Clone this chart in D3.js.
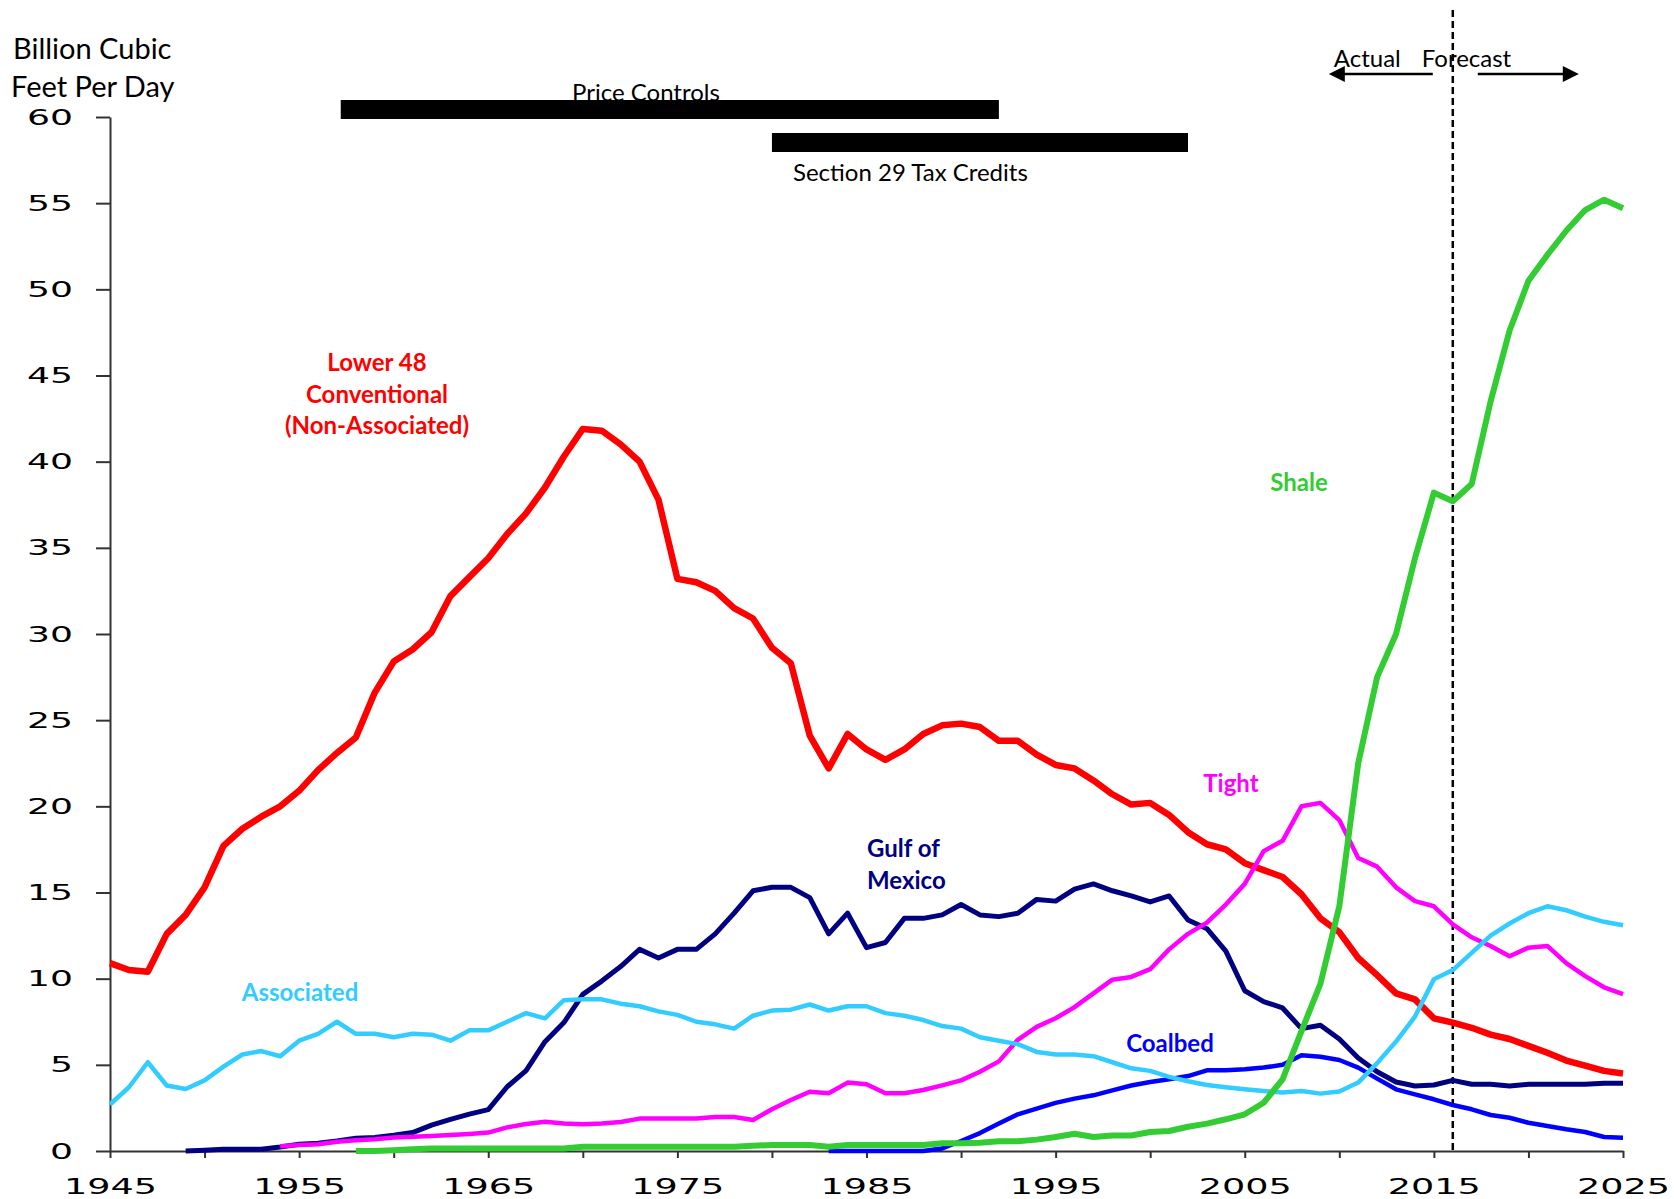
<!DOCTYPE html>
<html lang="en">
    <head>
      <meta charset="utf-8">
      <script type="text/javascript" src="https://d3js.org/d3.v7.min.js"></script>
      <style type="text/css">
        body { margin: 0; background: white; }
        .series { fill: none; stroke-linejoin: round; }
        .axis path, .axis line { stroke: #333; stroke-width: 2px; }
        .axis text { font-family: "DejaVu Sans", sans-serif; font-size: 22px; fill: black; }
        .note { font-family: Lato, "Open Sans", sans-serif; fill: black; }
        .label { font-family: Lato, "Open Sans", sans-serif; font-weight: bold; font-size: 24px; }
      </style>
   </head>
   <body>
      <div id="my_dataviz"></div>
      <script type="text/javascript">

        // values (billion cubic feet per day), one per year
        var lower48Start = 1945;
        var lower48 = [10.9, 10.5, 10.4, 12.6, 13.7,
            15.3, 17.7, 18.7, 19.4, 20.0, 20.9, 22.1, 23.1, 24.0, 26.6,
            28.4, 29.1, 30.1, 32.2, 33.3, 34.4, 35.8, 37.0, 38.5, 40.3,
            41.9, 41.8, 41.0, 40.0, 37.8, 33.2, 33.0, 32.5, 31.5, 30.9,
            29.2, 28.3, 24.1, 22.2, 24.2, 23.3, 22.7, 23.3, 24.2, 24.7,
            24.8, 24.6, 23.8, 23.8, 23.0, 22.4, 22.2, 21.5, 20.7, 20.1,
            20.2, 19.5, 18.5, 17.8, 17.5, 16.7, 16.3, 15.9, 14.9, 13.5,
            12.7, 11.2, 10.2, 9.15, 8.8, 7.7, 7.45, 7.15, 6.75, 6.5,
            6.1, 5.7, 5.25, 4.95, 4.65, 4.5];

        var associatedStart = 1945;
        var associated = [2.7, 3.7, 5.15, 3.8, 3.6,
            4.1, 4.9, 5.6, 5.8, 5.5, 6.4, 6.8, 7.5, 6.8, 6.8,
            6.6, 6.8, 6.75, 6.4, 7.0, 7.0, 7.5, 8.0, 7.7, 8.75,
            8.8, 8.8, 8.55, 8.4, 8.1, 7.9, 7.5, 7.35, 7.1, 7.85,
            8.15, 8.2, 8.5, 8.15, 8.4, 8.4, 8.0, 7.85, 7.6, 7.25,
            7.1, 6.6, 6.4, 6.2, 5.75, 5.6, 5.6, 5.5, 5.15, 4.8,
            4.65, 4.3, 4.05, 3.83, 3.7, 3.58, 3.48, 3.4, 3.48, 3.33,
            3.45, 3.97, 5.1, 6.35, 7.8, 9.96, 10.5, 11.5, 12.5, 13.2,
            13.8, 14.2, 13.97, 13.6, 13.3, 13.1];

        var gulfStart = 1949;
        var gulf = [0.0,
            0.04, 0.1, 0.1, 0.1, 0.23, 0.39, 0.45, 0.58, 0.74, 0.78,
            0.91, 1.07, 1.5, 1.84, 2.14, 2.4, 3.73, 4.66, 6.34, 7.45,
            9.09, 9.86, 10.7, 11.7, 11.2, 11.7, 11.7, 12.6, 13.8, 15.1,
            15.3, 15.3, 14.7, 12.6, 13.8, 11.8, 12.1, 13.5, 13.5, 13.7,
            14.3, 13.7, 13.6, 13.8, 14.6, 14.5, 15.2, 15.5, 15.1, 14.8,
            14.45, 14.8, 13.4, 12.9, 11.6, 9.3, 8.67, 8.3, 7.1, 7.3,
            6.5, 5.4, 4.6, 4.0, 3.77, 3.83, 4.1, 3.87, 3.87, 3.77,
            3.87, 3.87, 3.87, 3.87, 3.93, 3.93];

        var tightStart = 1954;
        var tight = [0.27, 0.35, 0.39, 0.54, 0.62, 0.68,
            0.78, 0.83, 0.87, 0.93, 0.99, 1.07, 1.37, 1.57, 1.7, 1.6,
            1.55, 1.6, 1.68, 1.88, 1.88, 1.88, 1.88, 1.97, 1.97, 1.8,
            2.42, 2.96, 3.44, 3.35, 3.97, 3.87, 3.35, 3.35, 3.54, 3.81,
            4.1, 4.6, 5.2, 6.45, 7.2, 7.7, 8.35, 9.15, 9.94, 10.1,
            10.55, 11.7, 12.6, 13.25, 14.3, 15.5, 17.4, 18.0, 20.0, 20.2,
            19.2, 17.0, 16.5, 15.3, 14.5, 14.2, 13.15, 12.4, 11.9, 11.3,
            11.8, 11.9, 10.9, 10.15, 9.5, 9.1];

        var coalbedStart = 1983;
        var coalbed = [0, 0, 0, 0, 0, 0, 0.15,
            0.58, 1.04, 1.6, 2.13, 2.46, 2.79, 3.04, 3.23, 3.52, 3.8,
            4.0, 4.16, 4.35, 4.68, 4.68, 4.74, 4.84, 5.0, 5.55, 5.47,
            5.28, 4.84, 4.2, 3.58, 3.29, 3.0, 2.67, 2.42, 2.09, 1.93,
            1.64, 1.45, 1.26, 1.1, 0.81, 0.77];

        var shaleStart = 1958;
        var shale = [0, 0,
            0.04, 0.1, 0.14, 0.15, 0.15, 0.15, 0.15, 0.15, 0.15, 0.15,
            0.25, 0.25, 0.25, 0.25, 0.25, 0.25, 0.25, 0.25, 0.25, 0.3,
            0.35, 0.35, 0.35, 0.25, 0.35, 0.35, 0.35, 0.35, 0.35, 0.45,
            0.45, 0.48, 0.56, 0.56, 0.66, 0.81, 1.0, 0.81, 0.9, 0.9,
            1.1, 1.16, 1.41, 1.59, 1.84, 2.13, 2.8, 4.16, 6.96, 9.7,
            14.2, 22.5, 27.5, 30.0, 34.4, 38.2, 37.7, 38.7, 43.5, 47.6,
            50.5, 52.0, 53.4, 54.6, 55.2, 54.7];

        // axis ticks
        var yTicks = [0, 5, 10, 15, 20, 25, 30, 35, 40, 45, 50, 55, 60];
        var xTicks = d3.range(1945, 2026, 5);
        var xLabels = [1945, 1955, 1965, 1975, 1985, 1995, 2005, 2015, 2025];

        // policy periods and the forecast split
        var policyNames = ["Price Controls", "Section 29 Tax Credits"];
        var policyStart = [1957.2, 1980];
        var policyEnd = [1992, 2002];
        var forecastYear = 2016;

        var width = 1674, height = 1199;

        var svg = d3.select("#my_dataviz")
            .append("svg")
            .attr("width", width)
            .attr("height", height);

        // Add X axis
        var x = d3.scaleLinear()
            .domain([1945, 2025])
            .range([110, 1623]);

        // Add Y axis
        var y = d3.scaleLinear()
            .domain([0, 60])
            .range([1151, 117]);

        svg.append("g")
            .attr("class", "axis")
            .attr("transform", "translate(0," + y(0) + ")")
            .call(d3.axisBottom(x)
                .tickValues(xTicks)
                .tickSize(7)
                .tickSizeOuter(0)
                .tickFormat(function(d) { return xLabels.indexOf(d) >= 0 ? d : ""; }))
            .selectAll("text")
            .attr("y", 43)
            .attr("dy", 0)
            .attr("font-size", 23)
            .filter(function(d) { return xLabels.indexOf(d) >= 0; })
            .attr("textLength", 93)
            .attr("lengthAdjust", "spacingAndGlyphs");

        svg.append("g")
            .attr("class", "axis")
            .attr("transform", "translate(" + x(1945) + ",0)")
            .call(d3.axisLeft(y)
                .tickValues(yTicks)
                .tickSize(14)
                .tickSizeOuter(0)
                .tickFormat(d3.format("d")))
            .selectAll("text")
            .attr("x", -37)
            .attr("textLength", function(d) { return String(d).length * 23; })
            .attr("lengthAdjust", "spacingAndGlyphs");

        // y axis title
        svg.append("text")
            .attr("class", "note")
            .attr("x", 13).attr("y", 59)
            .attr("font-size", 29)
            .text("Billion Cubic");
        svg.append("text")
            .attr("class", "note")
            .attr("x", 11).attr("y", 97)
            .attr("font-size", 29)
            .text("Feet Per Day");

        // policy bars
        var barTop = [100, 133];
        svg.selectAll(".policy")
            .data(policyNames)
            .enter()
            .append("rect")
            .attr("class", "policy")
            .attr("x", function(d, i) { return x(policyStart[i]); })
            .attr("width", function(d, i) { return x(policyEnd[i]) - x(policyStart[i]); })
            .attr("y", function(d, i) { return barTop[i]; })
            .attr("height", 19)
            .attr("fill", "black");

        svg.append("text")
            .attr("class", "note")
            .attr("x", 572).attr("y", 101)
            .attr("font-size", 24)
            .text(policyNames[0]);
        svg.append("text")
            .attr("class", "note")
            .attr("x", 793).attr("y", 181)
            .attr("font-size", 24)
            .text(policyNames[1]);

        // forecast divider
        var xf = x(forecastYear);
        svg.append("line")
            .attr("x1", xf).attr("x2", xf)
            .attr("y1", 10).attr("y2", y(0))
            .attr("stroke", "black")
            .attr("stroke-width", 2.5)
            .attr("stroke-dasharray", "7,4");

        svg.append("text")
            .attr("class", "note")
            .attr("x", xf - 52).attr("y", 67)
            .attr("font-size", 24)
            .attr("text-anchor", "end")
            .text("Actual");
        svg.append("text")
            .attr("class", "note")
            .attr("x", xf - 31).attr("y", 67)
            .attr("font-size", 24)
            .text("Forecast");

        // arrows
        var arrowY = 74;
        svg.append("line")
            .attr("x1", xf - 20).attr("x2", xf - 110)
            .attr("y1", arrowY).attr("y2", arrowY)
            .attr("stroke", "black").attr("stroke-width", 2.5);
        svg.append("path")
            .attr("d", "M" + (xf - 124) + "," + arrowY + "l16,-8l0,16z")
            .attr("fill", "black");
        svg.append("line")
            .attr("x1", xf + 25).attr("x2", xf + 112)
            .attr("y1", arrowY).attr("y2", arrowY)
            .attr("stroke", "black").attr("stroke-width", 2.5);
        svg.append("path")
            .attr("d", "M" + (xf + 126) + "," + arrowY + "l-16,-8l0,16z")
            .attr("fill", "black");

        // the series, drawn bottom to top
        var series = [
            {name: "lower48", start: lower48Start, values: lower48, color: "#ff0000", width: 6.5},
            {name: "gulf", start: gulfStart, values: gulf, color: "#000080", width: 5},
            {name: "tight", start: tightStart, values: tight, color: "#ff00ff", width: 4.5},
            {name: "coalbed", start: coalbedStart, values: coalbed, color: "#0000ff", width: 4.5},
            {name: "associated", start: associatedStart, values: associated, color: "#33ccff", width: 4.5},
            {name: "shale", start: shaleStart, values: shale, color: "#33cc33", width: 6}
        ];

        svg.append("g")
            .selectAll("path")
            .data(series)
            .enter()
            .append("path")
            .attr("class", "series")
            .attr("stroke", function(d) { return d.color; })
            .attr("stroke-width", function(d) { return d.width; })
            .attr("d", function(d) {
                return d3.line()
                    .x(function(v, i) { return x(d.start + i); })
                    .y(function(v) { return y(v); })(d.values);
            });

        // series labels
        var labels = [
            {lines: ["Lower 48", "Conventional", "(Non-Associated)"], x: 377, y: 371, color: "#ff0000", anchor: "middle"},
            {lines: ["Shale"], x: 1299, y: 491, color: "#33cc33", anchor: "middle"},
            {lines: ["Tight"], x: 1231, y: 792, color: "#ff00ff", anchor: "middle"},
            {lines: ["Gulf of", "Mexico"], x: 867, y: 857, color: "#000080", anchor: "start"},
            {lines: ["Associated"], x: 300, y: 1001, color: "#33ccff", anchor: "middle"},
            {lines: ["Coalbed"], x: 1170, y: 1052, color: "#0000ff", anchor: "middle"}
        ];

        labels.forEach(function(l) {
            var t = svg.append("text")
                .attr("class", "label")
                .attr("fill", l.color)
                .attr("text-anchor", l.anchor);
            l.lines.forEach(function(s, i) {
                t.append("tspan")
                    .attr("x", l.x)
                    .attr("y", l.y + i * 31.5)
                    .text(s);
            });
        });
      </script>
   </body>
</html>
